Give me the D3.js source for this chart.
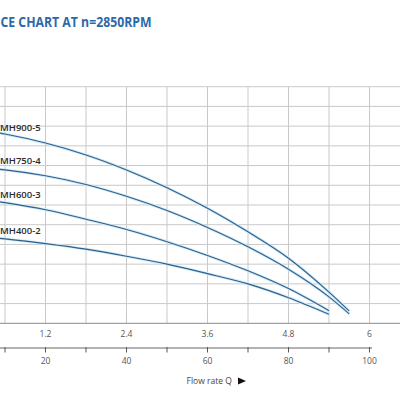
<!DOCTYPE html>
<html>
<head>
<meta charset="utf-8">
<script src="https://cdn.jsdelivr.net/npm/d3@7"></script>
<style>
  html, body { margin: 0; padding: 0; background: #fff; }
  svg { display: block; font-family: "Open Sans", sans-serif; }
</style>
</head>
<body>
<div id="chart"></div>
<script>
// pump models and their curves (Q in m3/h, head H in m)
const models = ["MH900-5", "MH750-4", "MH600-3", "MH400-2"];
const flowQ = [0, 0.6, 1.2, 1.8, 2.4, 3.0, 3.6, 4.2, 4.8, 5.4, 5.7];
const headMH900 = [49.5, 48.0, 45.7, 42.7, 38.9, 34.4, 29.2, 23.2, 16.5, 7.9, 3.1];
const headMH750 = [39.8, 38.9, 37.4, 35.2, 32.2, 28.6, 24.3, 19.4, 13.7, 6.7, 2.4];
const headMH600 = [32.1, 30.6, 28.8, 26.4, 23.8, 20.7, 17.2, 13.3, 8.8, 3.2];
const headMH400 = [22.3, 21.4, 20.2, 18.8, 17.0, 15.0, 12.6, 10.0, 6.5, 2.3];
const heads = [headMH900, headMH750, headMH600, headMH400];

// axis ticks
const qTicks = [1.2, 2.4, 3.6, 4.8, 6];          // m3/h
const lpmTicks = [10, 20, 30, 40, 50, 60, 70, 80, 90, 100]; // l/min
const lpmLabels = [20, 40, 60, 80, 100];
// only the right part of the title is visible in the source crop
const title = "CE CHART AT n=2850RPM";

const width = 400, height = 400;
const plot = {left: -35.5, right: 400, top: 86.7, bottom: 323.3};

const svg = d3.select("#chart").append("svg")
    .attr("width", width)
    .attr("height", height);

// scales
const x = d3.scaleLinear().domain([0, 6]).range([plot.left, 369.5]);
const xl = d3.scaleLinear().domain([0, 100]).range([plot.left, 369.5]);
const y = d3.scaleLinear().domain([0, 60]).range([plot.bottom, plot.top]);

// title
svg.append("text")
    .attr("x", 0.5).attr("y", 27)
    .attr("font-size", 14)
    .attr("font-weight", "bold")
    .attr("fill", "#2d69a8")
    .attr("textLength", 151)
    .attr("lengthAdjust", "spacingAndGlyphs")
    .text(title);

// grid
const grid = svg.append("g").attr("id", "grid");
grid.selectAll("line.v")
    .data(d3.range(0.6, 6.7, 0.6))
    .enter().append("line")
    .attr("class", "v")
    .attr("x1", d => x(d)).attr("x2", d => x(d))
    .attr("y1", plot.top).attr("y2", plot.bottom)
    .attr("stroke", "#c9c9c9").attr("stroke-width", 1);
grid.selectAll("line.h")
    .data(d3.range(5, 61, 5))
    .enter().append("line")
    .attr("class", "h")
    .attr("x1", 0).attr("x2", plot.right)
    .attr("y1", d => y(d)).attr("y2", d => y(d))
    .attr("stroke", "#c9c9c9").attr("stroke-width", 1);

// bottom edge of the grid (m3/h axis)
svg.append("line")
    .attr("x1", 0).attr("x2", plot.right)
    .attr("y1", plot.bottom).attr("y2", plot.bottom)
    .attr("stroke", "#8a8a8a").attr("stroke-width", 1);

svg.selectAll("text.q")
    .data(qTicks)
    .enter().append("text")
    .attr("class", "q")
    .attr("x", d => x(d)).attr("y", 336.5)
    .attr("text-anchor", "middle")
    .attr("font-size", 8.5)
    .attr("fill", "#555")
    .text(d => d);

// second axis in l/min
const lpm = svg.append("g").attr("id", "lpm");
lpm.append("line")
    .attr("x1", 0).attr("x2", 372)
    .attr("y1", 348).attr("y2", 348)
    .attr("stroke", "#666").attr("stroke-width", 1);
lpm.selectAll("line.tick")
    .data(lpmTicks)
    .enter().append("line")
    .attr("class", "tick")
    .attr("x1", d => xl(d)).attr("x2", d => xl(d))
    .attr("y1", 347).attr("y2", 352.5)
    .attr("stroke", "#555").attr("stroke-width", 1);
lpm.selectAll("text")
    .data(lpmLabels)
    .enter().append("text")
    .attr("x", d => xl(d)).attr("y", 363.5)
    .attr("text-anchor", "middle")
    .attr("font-size", 8.5)
    .attr("fill", "#555")
    .text(d => d);

svg.append("text")
    .attr("x", 186.5).attr("y", 384)
    .attr("font-size", 8.5)
    .attr("fill", "#444")
    .text("Flow rate Q");
svg.append("path")
    .attr("d", "M238,377.5 L246,381 L238,384.5 Z")
    .attr("fill", "#111");

// pump curves
const line = d3.line()
    .x(d => x(d[0]))
    .y(d => y(d[1]))
    .curve(d3.curveMonotoneX);

const curves = svg.append("g").attr("id", "curves");
heads.forEach(function (h) {
    const pts = h.map((v, i) => [flowQ[i], v]);
    curves.append("path")
        .attr("d", line(pts))
        .attr("fill", "none")
        .attr("stroke", "#cdeaf8")
        .attr("stroke-width", 2.8);
    curves.append("path")
        .attr("d", line(pts))
        .attr("fill", "none")
        .attr("stroke", "#2f5f8c")
        .attr("stroke-width", 1.1);
});

// model labels at the left edge
const labelY = [131, 163.5, 197.5, 234];
svg.selectAll("text.model")
    .data(models)
    .enter().append("text")
    .attr("class", "model")
    .attr("x", 0).attr("y", (d, i) => labelY[i])
    .attr("font-size", 9.5)
    .attr("font-weight", 600)
    .attr("fill", "#2a2a2a")
    .text(d => d);
</script>
</body>
</html>
